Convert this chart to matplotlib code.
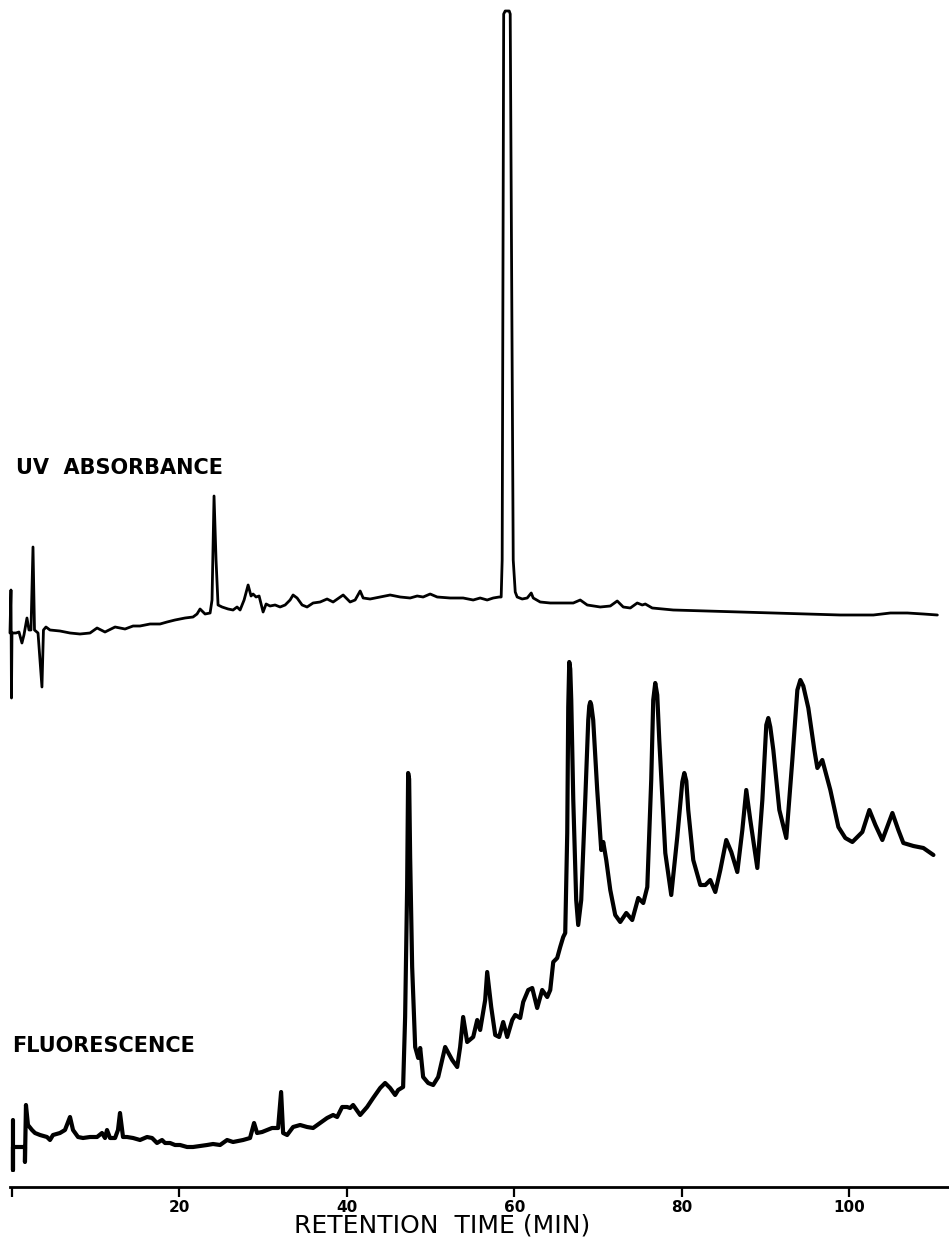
import matplotlib
matplotlib.use("Agg")
import matplotlib.pyplot as plt
import numpy as np

# UV absorbance trace: retention time (min) and detector response (arb. units)
uv_time = [-0.24, -0.12, -0.06, 0.0, 0.48, 0.84, 1.19, 1.43, 1.79, 2.03, 2.27, 2.51, 2.69,
           3.11, 3.58, 3.76, 4.06, 4.54, 5.73, 6.93, 8.12, 9.32, 10.16, 11.11, 12.31, 13.50,
           14.46, 15.29, 16.49, 17.68, 18.52, 19.47, 20.67, 21.62, 22.10, 22.46, 23.06, 23.66,
           23.89, 24.13, 24.37, 24.61, 25.09, 25.81, 26.40, 26.88, 27.24, 27.72, 28.20, 28.55,
           28.79, 29.15, 29.51, 29.99, 30.35, 30.82, 31.42, 32.02, 32.62, 33.21, 33.57, 34.05,
           34.65, 35.24, 35.96, 36.80, 37.63, 38.35, 39.55, 40.38, 40.98, 41.58, 41.94, 42.77,
           43.97, 45.16, 46.36, 47.55, 48.39, 49.10, 49.94, 50.78, 52.33, 53.88, 55.08, 55.91,
           56.75, 57.47, 58.18, 58.42, 58.54, 58.72, 58.90, 59.38, 59.50, 59.86, 60.10, 60.33,
           60.93, 61.53, 62.01, 62.25, 63.08, 64.28, 65.47, 67.03, 67.86, 68.70, 70.25, 71.45,
           72.28, 73.00, 73.84, 74.67, 75.27, 75.63, 76.46, 78.97, 83.03, 86.98, 90.92, 94.98,
           98.92, 102.87, 104.90, 106.93, 108.84, 110.51]
uv_signal = [67, 110, 2, 67, 67, 68, 57, 65, 82, 70, 70, 153, 70,
             67, 13, 70, 73, 70, 69, 67, 66, 67, 72, 68, 73, 71,
             74, 74, 76, 76, 78, 80, 82, 83, 86, 91, 86, 87,
             100, 204, 140, 95, 93, 91, 90, 93, 90, 100, 115, 104,
             106, 103, 104, 88, 96, 94, 95, 93, 95, 100, 105, 102,
             95, 93, 97, 98, 101, 98, 105, 98, 100, 109, 102, 101,
             103, 105, 103, 102, 104, 103, 106, 103, 102, 102, 100, 102,
             100, 102, 103, 103, 140, 686, 689, 689, 686, 140, 108, 103,
             101, 102, 107, 102, 98, 97, 97, 97, 100, 95, 93, 94,
             99, 93, 92, 97, 95, 96, 92, 90, 89, 88, 87, 86,
             85, 85, 87, 87, 86, 85]

# Fluorescence trace
fl_time = [0.12, 0.12, 0.12, 1.55, 1.55, 1.67, 1.91, 2.39, 2.75, 3.35, 4.18, 4.54, 4.90,
           5.73, 6.33, 6.93, 7.29, 7.89, 8.48, 9.32, 10.16, 10.75, 11.11, 11.35, 11.71,
           12.31, 12.66, 12.90, 13.26, 13.74, 14.46, 15.29, 16.13, 16.73, 17.32, 17.92, 18.28,
           18.88, 19.47, 20.07, 20.91, 21.62, 22.46, 23.30, 24.01, 24.85, 25.69, 26.40, 27.60,
           28.43, 28.91, 29.27, 29.87, 30.47, 31.06, 31.78, 32.14, 32.38, 32.86, 33.57, 34.41,
           35.24, 35.96, 36.80, 37.63, 38.35, 38.83, 39.43, 40.02, 40.38, 40.74, 41.58, 42.41,
           43.13, 43.97, 44.56, 45.16, 45.76, 46.12, 46.71, 46.95, 47.19, 47.31, 47.43, 47.55, 47.79,
           48.15, 48.51, 48.75, 49.10, 49.70, 50.30, 50.90, 51.73, 52.57, 53.17, 53.52, 53.88,
           54.36, 55.08, 55.56, 55.91, 56.51, 56.75, 57.23, 57.71, 58.18, 58.66, 59.14, 59.74,
           60.10, 60.69, 61.05, 61.65, 62.13, 62.72, 63.32, 63.92, 64.28, 64.64, 65.11, 65.47,
           65.83, 66.07, 66.31, 66.43, 66.55, 66.67, 66.79, 67.03, 67.38, 67.62, 67.98, 68.46,
           68.82, 68.94, 69.06, 69.18, 69.41, 69.89, 70.37, 70.61, 70.97, 71.45, 72.04, 72.64,
           73.36, 74.07, 74.79, 75.39, 75.87, 76.34, 76.58, 76.82, 77.06, 77.30, 78.02, 78.73,
           79.45, 80.05, 80.29, 80.53, 80.76, 81.36, 82.20, 82.80, 83.39, 83.99, 84.59, 85.30,
           85.90, 86.62, 87.22, 87.69, 88.17, 89.01, 89.61, 90.08, 90.32, 90.56, 90.92, 91.64,
           92.47, 93.19, 93.79, 94.15, 94.50, 95.10, 95.82, 96.18, 96.77, 97.73, 98.69, 99.52,
           100.36, 101.55, 102.39, 103.11, 103.94, 105.14, 105.85, 106.45, 107.65, 108.84,
           110.04]
fl_signal = [67, 17, 40, 40, 25, 82, 62, 57, 54, 52, 50, 47, 52,
             54, 57, 70, 57, 50, 49, 50, 50, 54, 49, 57, 49,
             49, 57, 74, 50, 50, 49, 47, 50, 49, 44, 47, 44,
             44, 42, 42, 40, 40, 41, 42, 43, 42, 47, 45, 47,
             49, 64, 54, 55, 57, 59, 59, 95, 54, 52, 60, 62,
             60, 59, 64, 69, 72, 70, 80, 80, 79, 82, 72, 80,
             89, 99, 104, 99, 92, 97, 100, 170, 300, 414, 408, 330, 220,
             140, 129, 139, 110, 104, 102, 110, 140, 127, 120, 140, 170,
             145, 150, 167, 157, 187, 215, 180, 152, 150, 165, 150, 167,
             172, 169, 185, 197, 199, 179, 197, 190, 197, 225, 229, 240,
             250, 254, 354, 480, 525, 518, 487, 387, 287, 262, 287, 387,
             467, 481, 485, 482, 467, 397, 337, 345, 327, 297, 272, 265,
             274, 267, 289, 284, 300, 407, 487, 504, 492, 447, 334, 292,
             350, 405, 414, 406, 377, 327, 302, 302, 307, 295, 317, 347,
             335, 315, 357, 397, 367, 319, 387, 462, 469, 460, 437, 377,
             349, 427, 497, 507, 501, 479, 437, 419, 427, 397, 360, 349,
             345, 355, 377, 362, 347, 374, 357, 344, 341, 339,
             332]

tick_values = [0, 20, 40, 60, 80, 100]
tick_labels = ["", "20", "40", "60", "80", "100"]

# vertical offset that stacks the UV trace above the fluorescence trace
UV_OFFSET = 487

fig = plt.figure(figsize=(9.49, 12.43), dpi=100)
ax = fig.add_axes([0, 0, 1, 1])

ax.plot(np.array(uv_time), np.array(uv_signal) + UV_OFFSET, color="black", lw=2.0,
        solid_joinstyle="round", solid_capstyle="round")
ax.plot(fl_time, fl_signal, color="black", lw=3.0,
        solid_joinstyle="round", solid_capstyle="round")

ax.set_xlim(-1.43, 111.9)
ax.set_ylim(-56, 1187)

for side in ["top", "left", "right"]:
    ax.spines[side].set_visible(False)
ax.spines["bottom"].set_position(("data", 0))
ax.spines["bottom"].set_bounds(-0.24, 111.9)
ax.spines["bottom"].set_linewidth(2.0)
ax.set_yticks([])
ax.set_xticks(tick_values)
ax.set_xticklabels(tick_labels, fontsize=11, fontweight="bold")
ax.tick_params(axis="x", direction="out", length=7, width=1.6, pad=2)

fig.text(16 / 949, 1 - 468 / 1243, "UV  ABSORBANCE", fontsize=15, fontweight="bold",
         va="center", ha="left")
fig.text(12 / 949, 1 - 1046 / 1243, "FLUORESCENCE", fontsize=15, fontweight="bold",
         va="center", ha="left")
fig.text(442 / 949, 1 - 1225 / 1243, "RETENTION  TIME (MIN)", fontsize=18,
         va="center", ha="center")

fig.savefig("out.png", dpi=100, facecolor="white")
